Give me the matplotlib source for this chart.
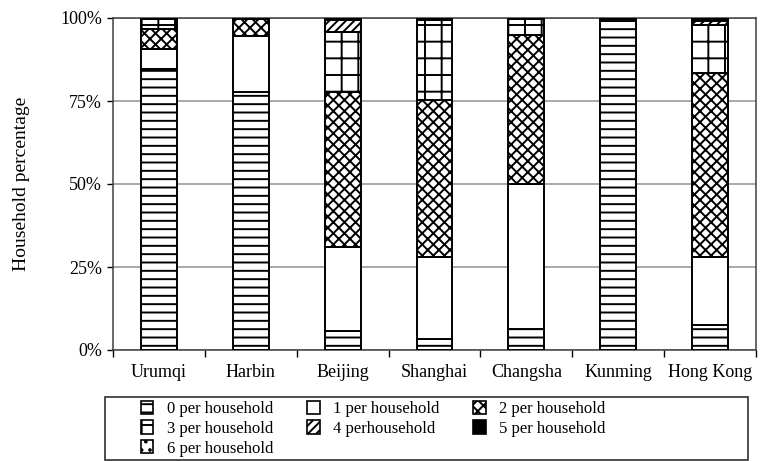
import matplotlib
matplotlib.use("Agg")
import matplotlib.pyplot as plt
from matplotlib.patches import Patch, Rectangle
import numpy as np

plt.rcParams['font.family'] = ['Liberation Serif', 'DejaVu Serif']
plt.rcParams['hatch.linewidth'] = 1.4

categories = ['Urumqi', 'Harbin', 'Beijing', 'Shanghai', 'Changsha', 'Kunming', 'Hong Kong']
series_names = ['0 per household', '1 per household', '2 per household', '3 per household',
                '4 perhousehold', '5 per household', '6 per household']
p0 = [84.6, 77.6, 5.6, 3.2, 6.3, 99.0, 7.5]
p1 = [6.0, 17.0, 25.4, 24.8, 43.7, 0.6, 20.6]
p2 = [6.1, 5.0, 46.7, 47.3, 44.9, 0.0, 55.4]
p3 = [3.0, 0.0, 18.1, 24.2, 4.8, 0.0, 14.4]
p4 = [0.0, 0.0, 3.6, 0.0, 0.0, 0.0, 1.2]
p5 = [0.3, 0.4, 0.6, 0.5, 0.3, 0.4, 0.7]
p6 = [0.0, 0.0, 0.0, 0.0, 0.0, 0.0, 0.2]
yticks = [0, 25, 50, 75, 100]
ytick_labels = ['0%', '25%', '50%', '75%', '100%']

series = [p0, p1, p2, p3, p4, p5, p6]
styles = [
    dict(facecolor='white', hatch='--'),
    dict(facecolor='white', hatch=None),
    dict(facecolor='white', hatch='xxx'),
    dict(facecolor='white', hatch='+'),
    dict(facecolor='white', hatch='////'),
    dict(facecolor='black', hatch=None),
    dict(facecolor='white', hatch='..'),
]

W, H = 764, 461
fig = plt.figure(figsize=(W / 100, H / 100), dpi=100)
ax = fig.add_axes([113 / W, 1 - 350 / H, (756 - 113) / W, (350 - 18) / H])

x = np.arange(len(categories))
bottom = np.zeros(len(categories))
for vals, st in zip(series, styles):
    v = np.array(vals)
    ax.bar(x, v, 0.39, bottom=bottom, facecolor=st['facecolor'], hatch=st['hatch'],
           edgecolor='black', linewidth=1.4, zorder=3)
    bottom += v

ax.set_xlim(-0.5, len(categories) - 0.5)
ax.set_ylim(0, 100)
ax.set_yticks(yticks)
ax.set_yticklabels(ytick_labels, fontsize=13)
ax.set_xticks(x)
ax.set_xticklabels(categories, fontsize=13)
ax.set_xticks(np.arange(-0.5, len(categories), 1.0), minor=True)
ax.tick_params(axis='x', which='major', length=0, pad=10)
ax.tick_params(axis='x', which='minor', length=5, width=1, direction='out')
ax.tick_params(axis='y', length=4, width=1, direction='out', pad=4)
ax.yaxis.grid(True, color='#9a9a9a', linewidth=1.2, zorder=0)
for s in ax.spines.values():
    s.set_color('#404040')
    s.set_linewidth(1.1)
ax.set_ylabel('Household percentage', fontsize=14)
ax.yaxis.set_label_coords((30 - 113) / (756 - 113), 0.5)

handles = [Patch(facecolor=st['facecolor'], hatch=st['hatch'], edgecolor='black',
                 linewidth=1.2) for st in styles]
order = [0, 3, 6, 1, 4, 2, 5]
leg = fig.legend([handles[i] for i in order], [series_names[i] for i in order],
                 ncol=3, loc='upper left', bbox_to_anchor=(129 / W, 1 - 389 / H),
                 frameon=False, fontsize=12, handlelength=0.75, handleheight=0.85,
                 handletextpad=0.8, labelspacing=0.2, columnspacing=2.05,
                 borderpad=0.2)
fig.add_artist(Rectangle((105 / W, 1 - 460 / H), (748 - 105) / W, (460 - 397) / H,
                         transform=fig.transFigure, facecolor='none',
                         edgecolor='#303030', linewidth=1.2))

fig.savefig('out.png', dpi=100)
